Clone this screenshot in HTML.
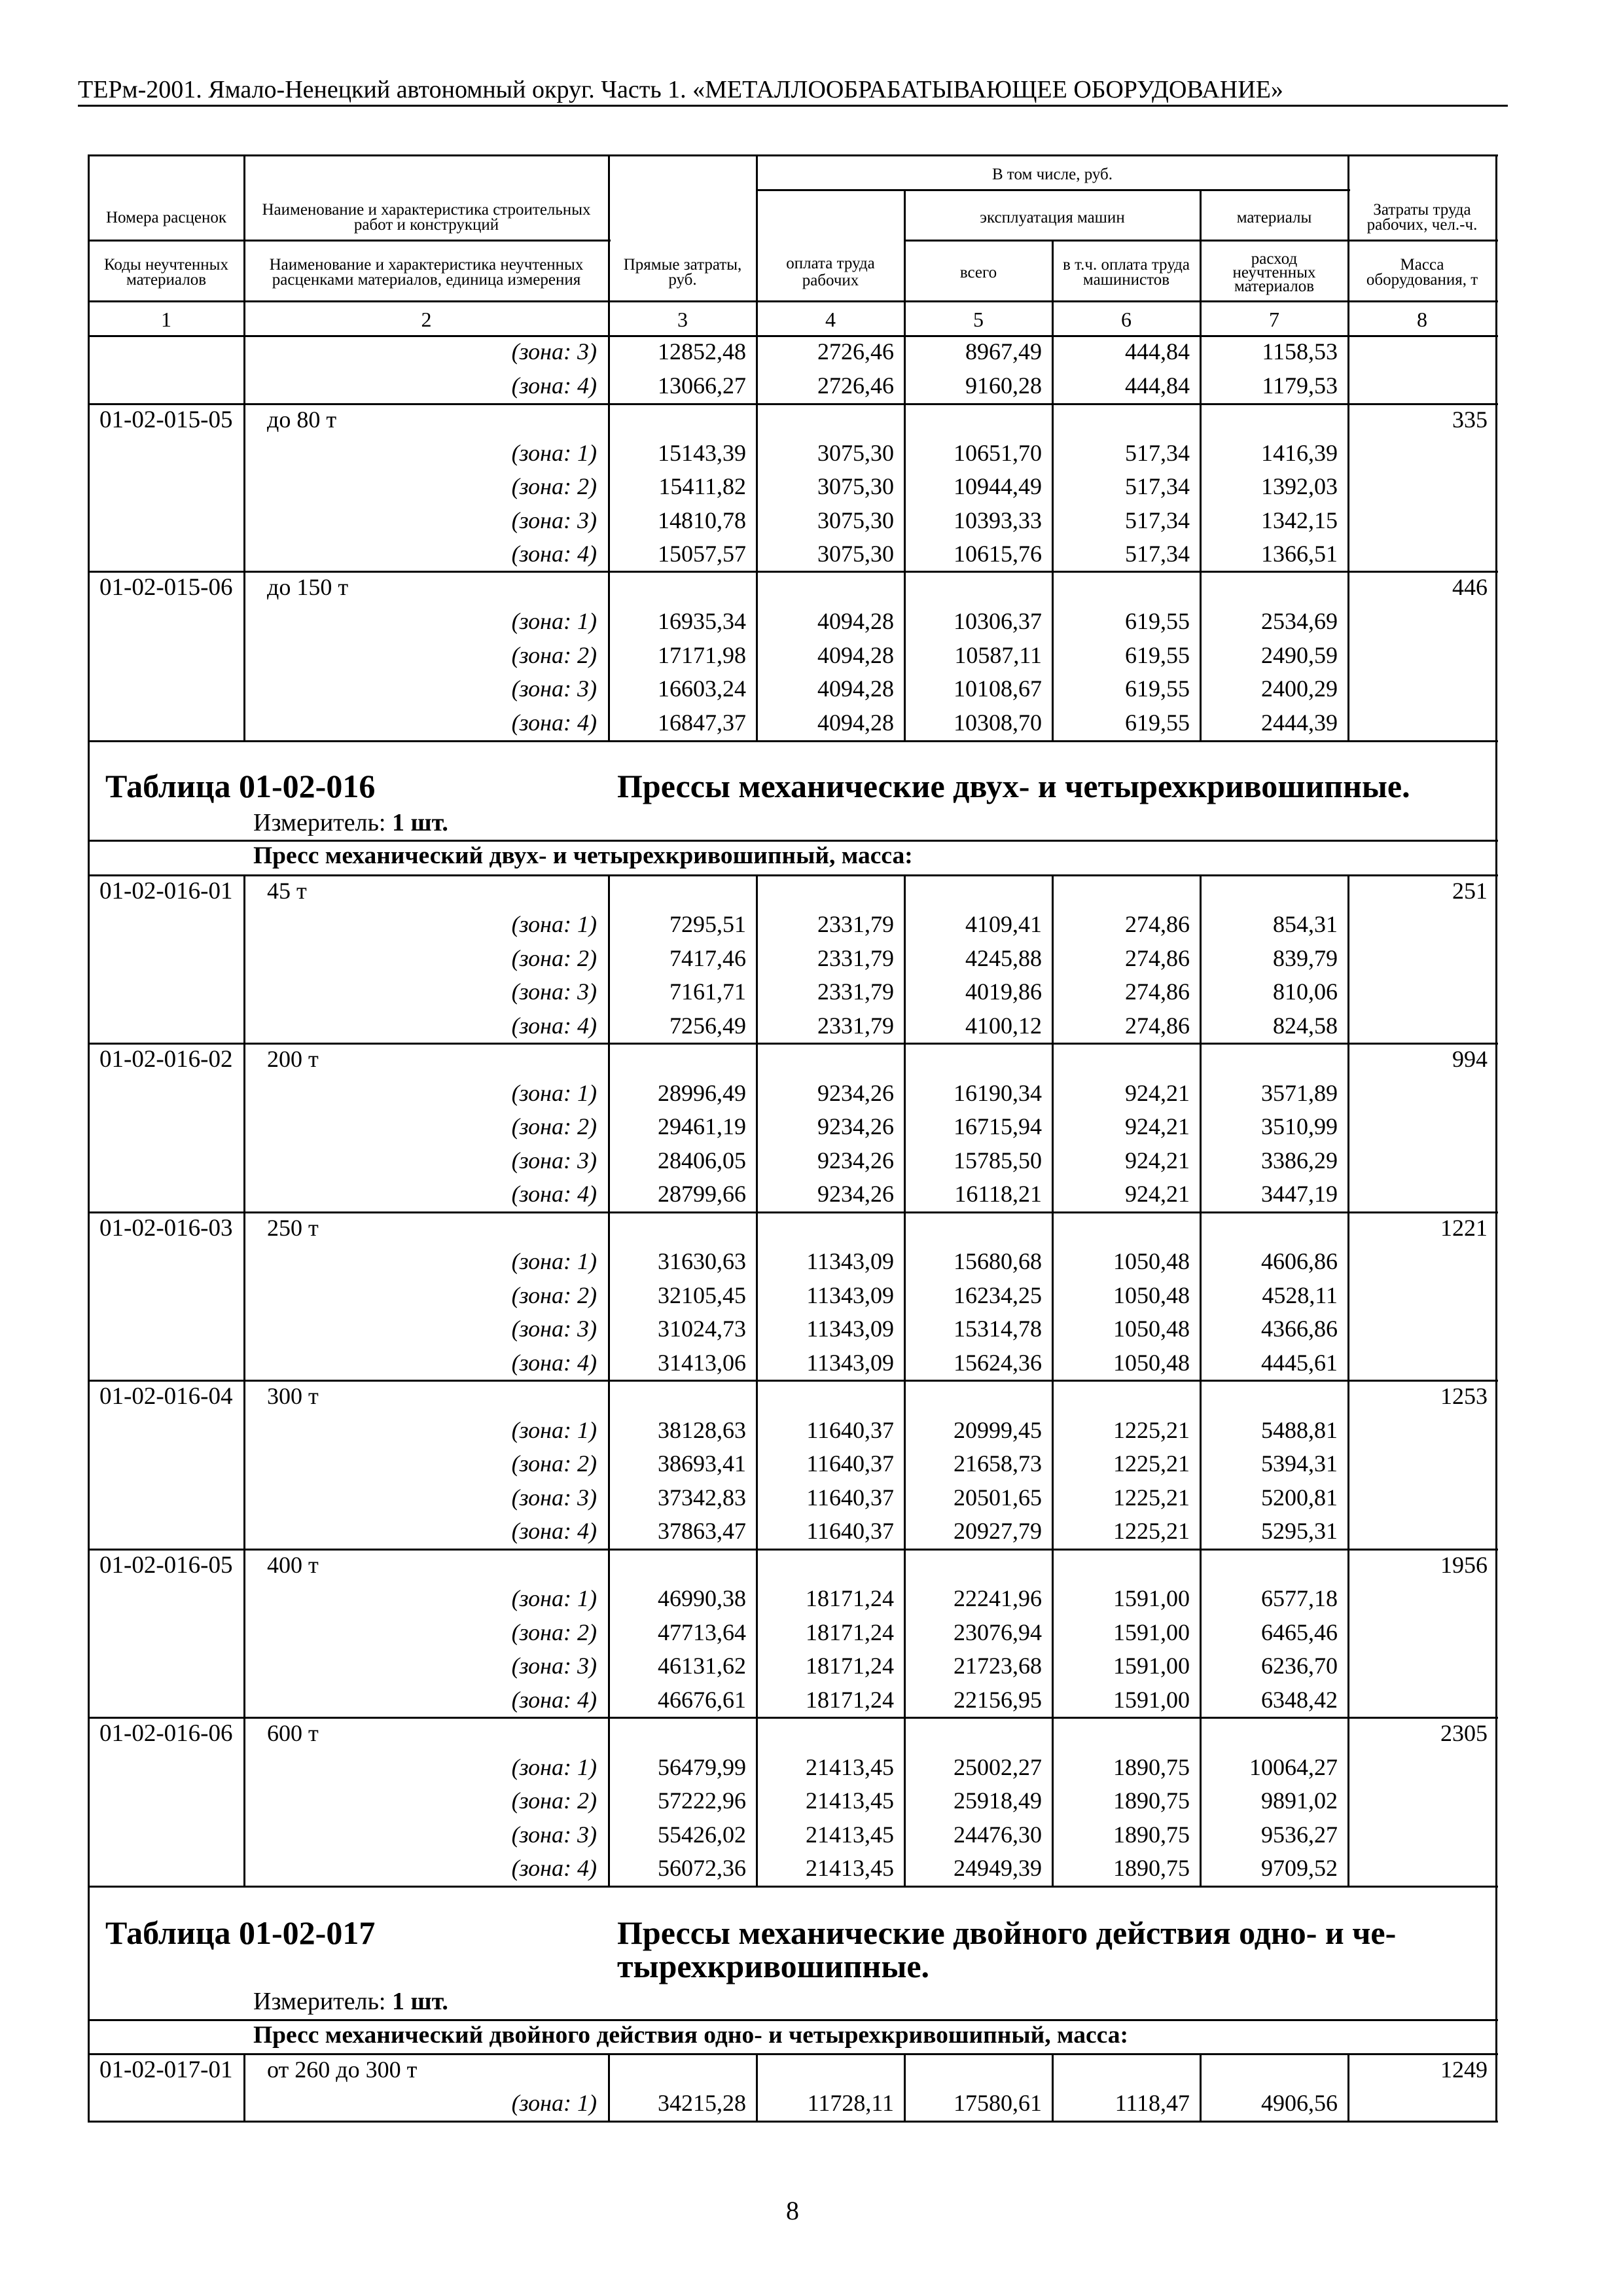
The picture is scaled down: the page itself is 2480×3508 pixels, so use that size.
<!DOCTYPE html>
<html><head><meta charset="utf-8">
<style>
html,body{margin:0;padding:0;background:#fff;}
body{width:2480px;height:3508px;position:relative;overflow:hidden;font-family:"Liberation Serif","DejaVu Serif",serif;color:#000;}
.hl{position:absolute;height:3px;background:#000;}
.vl{position:absolute;width:3px;background:#000;}
.t{position:absolute;white-space:nowrap;}
.h{position:absolute;display:flex;align-items:center;justify-content:center;text-align:center;font-size:25px;line-height:23px;}
.row{position:absolute;left:135px;width:2151px;height:51px;line-height:51px;display:grid;grid-template-columns:238px 557px 226px 226px 226px 226px 226px 226px;font-size:36px;}
.row span{text-align:right;padding-right:16px;white-space:nowrap;}
.row .c{text-align:left;padding-left:17px;padding-right:0;font-size:37px;}
.row .n{text-align:left;padding-left:35px;padding-right:0;}
.row .z{font-style:italic;padding-right:18px;}
.row .m{padding-right:13px;}
</style></head><body>

<div class="t" style="left:119px;top:118px;font-size:38px;line-height:38px;">ТЕРм-2001. Ямало-Ненецкий автономный округ. Часть 1. «МЕТАЛЛООБРАБАТЫВАЮЩЕЕ ОБОРУДОВАНИЕ»</div>
<div class="hl" style="left:119px;top:160px;width:2185px;"></div>

<!-- horizontal lines -->
<div class="hl" style="left:135px;top:236px;width:2154px;"></div>
<div class="hl" style="left:1156px;top:289px;width:907px;"></div>
<div class="hl" style="left:135px;top:366px;width:798px;"></div>
<div class="hl" style="left:1382px;top:366px;width:907px;"></div>
<div class="hl" style="left:135px;top:459px;width:2154px;"></div>
<div class="hl" style="left:135px;top:512px;width:2154px;"></div>
<div class="hl" style="left:135px;top:616px;width:2154px;"></div>
<div class="hl" style="left:135px;top:872px;width:2154px;"></div>
<div class="hl" style="left:135px;top:1131px;width:2154px;"></div>
<div class="hl" style="left:135px;top:1283px;width:2154px;"></div>
<div class="hl" style="left:135px;top:1336px;width:2154px;"></div>
<div class="hl" style="left:135px;top:1593px;width:2154px;"></div>
<div class="hl" style="left:135px;top:1851px;width:2154px;"></div>
<div class="hl" style="left:135px;top:2108px;width:2154px;"></div>
<div class="hl" style="left:135px;top:2366px;width:2154px;"></div>
<div class="hl" style="left:135px;top:2623px;width:2154px;"></div>
<div class="hl" style="left:135px;top:2881px;width:2154px;"></div>
<div class="hl" style="left:135px;top:3085px;width:2154px;"></div>
<div class="hl" style="left:135px;top:3137px;width:2154px;"></div>
<div class="hl" style="left:135px;top:3240px;width:2154px;"></div>

<!-- vertical lines -->
<div class="vl" style="left:134px;top:236px;height:3007px;"></div>
<div class="vl" style="left:2285px;top:236px;height:3007px;"></div>

<div class="vl" style="left:372px;top:236px;height:897px;"></div>
<div class="vl" style="left:929px;top:236px;height:897px;"></div>
<div class="vl" style="left:1155px;top:236px;height:897px;"></div>
<div class="vl" style="left:2059px;top:236px;height:897px;"></div>
<div class="vl" style="left:1381px;top:289px;height:844px;"></div>
<div class="vl" style="left:1833px;top:289px;height:844px;"></div>
<div class="vl" style="left:1607px;top:366px;height:767px;"></div>

<div class="vl" style="left:372px;top:1336px;height:1547px;"></div>
<div class="vl" style="left:929px;top:1336px;height:1547px;"></div>
<div class="vl" style="left:1155px;top:1336px;height:1547px;"></div>
<div class="vl" style="left:1381px;top:1336px;height:1547px;"></div>
<div class="vl" style="left:1607px;top:1336px;height:1547px;"></div>
<div class="vl" style="left:1833px;top:1336px;height:1547px;"></div>
<div class="vl" style="left:2059px;top:1336px;height:1547px;"></div>

<div class="vl" style="left:372px;top:3137px;height:105px;"></div>
<div class="vl" style="left:929px;top:3137px;height:105px;"></div>
<div class="vl" style="left:1155px;top:3137px;height:105px;"></div>
<div class="vl" style="left:1381px;top:3137px;height:105px;"></div>
<div class="vl" style="left:1607px;top:3137px;height:105px;"></div>
<div class="vl" style="left:1833px;top:3137px;height:105px;"></div>
<div class="vl" style="left:2059px;top:3137px;height:105px;"></div>

<!-- header cells -->
<div class="h" style="left:1156px;top:239px;width:904px;height:55px;">В том числе, руб.</div>
<div class="h" style="left:135px;top:292px;width:238px;height:80px;">Номера расценок</div>
<div class="h" style="left:373px;top:292px;width:557px;height:80px;">Наименование и характеристика строительных<br>работ и конструкций</div>
<div class="h" style="left:1382px;top:292px;width:452px;height:80px;">эксплуатация машин</div>
<div class="h" style="left:1834px;top:292px;width:226px;height:80px;">материалы</div>
<div class="h" style="left:2060px;top:292px;width:226px;height:80px;">Затраты труда<br>рабочих, чел.-ч.</div>

<div class="h" style="left:135px;top:372px;width:238px;height:88px;">Коды неучтенных<br>материалов</div>
<div class="h" style="left:373px;top:372px;width:557px;height:88px;">Наименование и характеристика неучтенных<br>расценками материалов, единица измерения</div>
<div class="h" style="left:930px;top:372px;width:226px;height:88px;">Прямые затраты,<br>руб.</div>
<div class="h" style="left:1156px;top:372px;width:226px;height:88px;line-height:26px;">оплата труда<br>рабочих</div>
<div class="h" style="left:1382px;top:372px;width:226px;height:88px;">всего</div>
<div class="h" style="left:1608px;top:372px;width:226px;height:88px;">в т.ч. оплата труда<br>машинистов</div>
<div class="h" style="left:1834px;top:372px;width:226px;height:88px;line-height:21px;">расход<br>неучтенных<br>материалов</div>
<div class="h" style="left:2060px;top:372px;width:226px;height:88px;">Масса<br>оборудования, т</div>

<div class="h" style="left:135px;top:462px;width:238px;height:53px;font-size:32px;">1</div>
<div class="h" style="left:373px;top:462px;width:557px;height:53px;font-size:32px;">2</div>
<div class="h" style="left:930px;top:462px;width:226px;height:53px;font-size:32px;">3</div>
<div class="h" style="left:1156px;top:462px;width:226px;height:53px;font-size:32px;">4</div>
<div class="h" style="left:1382px;top:462px;width:226px;height:53px;font-size:32px;">5</div>
<div class="h" style="left:1608px;top:462px;width:226px;height:53px;font-size:32px;">6</div>
<div class="h" style="left:1834px;top:462px;width:226px;height:53px;font-size:32px;">7</div>
<div class="h" style="left:2060px;top:462px;width:226px;height:53px;font-size:32px;">8</div>

<!-- data -->
<div class="row" style="top:512px"><span></span><span class="z">(зона: 3)</span><span>12852,48</span><span>2726,46</span><span>8967,49</span><span>444,84</span><span>1158,53</span><span></span></div>
<div class="row" style="top:564px"><span></span><span class="z">(зона: 4)</span><span>13066,27</span><span>2726,46</span><span>9160,28</span><span>444,84</span><span>1179,53</span><span></span></div>

<div class="row" style="top:616px"><span class="c">01-02-015-05</span><span class="n">до 80 т</span><span></span><span></span><span></span><span></span><span></span><span class="m">335</span></div>
<div class="row" style="top:667px"><span></span><span class="z">(зона: 1)</span><span>15143,39</span><span>3075,30</span><span>10651,70</span><span>517,34</span><span>1416,39</span><span></span></div>
<div class="row" style="top:718px"><span></span><span class="z">(зона: 2)</span><span>15411,82</span><span>3075,30</span><span>10944,49</span><span>517,34</span><span>1392,03</span><span></span></div>
<div class="row" style="top:770px"><span></span><span class="z">(зона: 3)</span><span>14810,78</span><span>3075,30</span><span>10393,33</span><span>517,34</span><span>1342,15</span><span></span></div>
<div class="row" style="top:821px"><span></span><span class="z">(зона: 4)</span><span>15057,57</span><span>3075,30</span><span>10615,76</span><span>517,34</span><span>1366,51</span><span></span></div>

<div class="row" style="top:872px"><span class="c">01-02-015-06</span><span class="n">до 150 т</span><span></span><span></span><span></span><span></span><span></span><span class="m">446</span></div>
<div class="row" style="top:924px"><span></span><span class="z">(зона: 1)</span><span>16935,34</span><span>4094,28</span><span>10306,37</span><span>619,55</span><span>2534,69</span><span></span></div>
<div class="row" style="top:976px"><span></span><span class="z">(зона: 2)</span><span>17171,98</span><span>4094,28</span><span>10587,11</span><span>619,55</span><span>2490,59</span><span></span></div>
<div class="row" style="top:1027px"><span></span><span class="z">(зона: 3)</span><span>16603,24</span><span>4094,28</span><span>10108,67</span><span>619,55</span><span>2400,29</span><span></span></div>
<div class="row" style="top:1079px"><span></span><span class="z">(зона: 4)</span><span>16847,37</span><span>4094,28</span><span>10308,70</span><span>619,55</span><span>2444,39</span><span></span></div>

<!-- Table 016 title -->
<div class="t" style="left:161px;top:1176px;font-size:50px;line-height:50px;font-weight:bold;">Таблица 01-02-016</div>
<div class="t" style="left:943px;top:1176px;font-size:50px;line-height:50px;font-weight:bold;">Прессы механические двух- и четырехкривошипные.</div>
<div class="t" style="left:387px;top:1238px;font-size:38px;line-height:38px;">Измеритель: <b>1 шт.</b></div>
<div class="t" style="left:387px;top:1289px;font-size:37.5px;line-height:38px;font-weight:bold;">Пресс механический двух- и четырехкривошипный, масса:</div>

<div class="row" style="top:1336px"><span class="c">01-02-016-01</span><span class="n">45 т</span><span></span><span></span><span></span><span></span><span></span><span class="m">251</span></div>
<div class="row" style="top:1387px"><span></span><span class="z">(зона: 1)</span><span>7295,51</span><span>2331,79</span><span>4109,41</span><span>274,86</span><span>854,31</span><span></span></div>
<div class="row" style="top:1439px"><span></span><span class="z">(зона: 2)</span><span>7417,46</span><span>2331,79</span><span>4245,88</span><span>274,86</span><span>839,79</span><span></span></div>
<div class="row" style="top:1490px"><span></span><span class="z">(зона: 3)</span><span>7161,71</span><span>2331,79</span><span>4019,86</span><span>274,86</span><span>810,06</span><span></span></div>
<div class="row" style="top:1542px"><span></span><span class="z">(зона: 4)</span><span>7256,49</span><span>2331,79</span><span>4100,12</span><span>274,86</span><span>824,58</span><span></span></div>

<div class="row" style="top:1593px"><span class="c">01-02-016-02</span><span class="n">200 т</span><span></span><span></span><span></span><span></span><span></span><span class="m">994</span></div>
<div class="row" style="top:1645px"><span></span><span class="z">(зона: 1)</span><span>28996,49</span><span>9234,26</span><span>16190,34</span><span>924,21</span><span>3571,89</span><span></span></div>
<div class="row" style="top:1696px"><span></span><span class="z">(зона: 2)</span><span>29461,19</span><span>9234,26</span><span>16715,94</span><span>924,21</span><span>3510,99</span><span></span></div>
<div class="row" style="top:1748px"><span></span><span class="z">(зона: 3)</span><span>28406,05</span><span>9234,26</span><span>15785,50</span><span>924,21</span><span>3386,29</span><span></span></div>
<div class="row" style="top:1799px"><span></span><span class="z">(зона: 4)</span><span>28799,66</span><span>9234,26</span><span>16118,21</span><span>924,21</span><span>3447,19</span><span></span></div>

<div class="row" style="top:1851px"><span class="c">01-02-016-03</span><span class="n">250 т</span><span></span><span></span><span></span><span></span><span></span><span class="m">1221</span></div>
<div class="row" style="top:1902px"><span></span><span class="z">(зона: 1)</span><span>31630,63</span><span>11343,09</span><span>15680,68</span><span>1050,48</span><span>4606,86</span><span></span></div>
<div class="row" style="top:1954px"><span></span><span class="z">(зона: 2)</span><span>32105,45</span><span>11343,09</span><span>16234,25</span><span>1050,48</span><span>4528,11</span><span></span></div>
<div class="row" style="top:2005px"><span></span><span class="z">(зона: 3)</span><span>31024,73</span><span>11343,09</span><span>15314,78</span><span>1050,48</span><span>4366,86</span><span></span></div>
<div class="row" style="top:2057px"><span></span><span class="z">(зона: 4)</span><span>31413,06</span><span>11343,09</span><span>15624,36</span><span>1050,48</span><span>4445,61</span><span></span></div>

<div class="row" style="top:2108px"><span class="c">01-02-016-04</span><span class="n">300 т</span><span></span><span></span><span></span><span></span><span></span><span class="m">1253</span></div>
<div class="row" style="top:2160px"><span></span><span class="z">(зона: 1)</span><span>38128,63</span><span>11640,37</span><span>20999,45</span><span>1225,21</span><span>5488,81</span><span></span></div>
<div class="row" style="top:2211px"><span></span><span class="z">(зона: 2)</span><span>38693,41</span><span>11640,37</span><span>21658,73</span><span>1225,21</span><span>5394,31</span><span></span></div>
<div class="row" style="top:2263px"><span></span><span class="z">(зона: 3)</span><span>37342,83</span><span>11640,37</span><span>20501,65</span><span>1225,21</span><span>5200,81</span><span></span></div>
<div class="row" style="top:2314px"><span></span><span class="z">(зона: 4)</span><span>37863,47</span><span>11640,37</span><span>20927,79</span><span>1225,21</span><span>5295,31</span><span></span></div>

<div class="row" style="top:2366px"><span class="c">01-02-016-05</span><span class="n">400 т</span><span></span><span></span><span></span><span></span><span></span><span class="m">1956</span></div>
<div class="row" style="top:2417px"><span></span><span class="z">(зона: 1)</span><span>46990,38</span><span>18171,24</span><span>22241,96</span><span>1591,00</span><span>6577,18</span><span></span></div>
<div class="row" style="top:2469px"><span></span><span class="z">(зона: 2)</span><span>47713,64</span><span>18171,24</span><span>23076,94</span><span>1591,00</span><span>6465,46</span><span></span></div>
<div class="row" style="top:2520px"><span></span><span class="z">(зона: 3)</span><span>46131,62</span><span>18171,24</span><span>21723,68</span><span>1591,00</span><span>6236,70</span><span></span></div>
<div class="row" style="top:2572px"><span></span><span class="z">(зона: 4)</span><span>46676,61</span><span>18171,24</span><span>22156,95</span><span>1591,00</span><span>6348,42</span><span></span></div>

<div class="row" style="top:2623px"><span class="c">01-02-016-06</span><span class="n">600 т</span><span></span><span></span><span></span><span></span><span></span><span class="m">2305</span></div>
<div class="row" style="top:2675px"><span></span><span class="z">(зона: 1)</span><span>56479,99</span><span>21413,45</span><span>25002,27</span><span>1890,75</span><span>10064,27</span><span></span></div>
<div class="row" style="top:2726px"><span></span><span class="z">(зона: 2)</span><span>57222,96</span><span>21413,45</span><span>25918,49</span><span>1890,75</span><span>9891,02</span><span></span></div>
<div class="row" style="top:2778px"><span></span><span class="z">(зона: 3)</span><span>55426,02</span><span>21413,45</span><span>24476,30</span><span>1890,75</span><span>9536,27</span><span></span></div>
<div class="row" style="top:2829px"><span></span><span class="z">(зона: 4)</span><span>56072,36</span><span>21413,45</span><span>24949,39</span><span>1890,75</span><span>9709,52</span><span></span></div>

<!-- Table 017 title -->
<div class="t" style="left:161px;top:2928px;font-size:50px;line-height:50px;font-weight:bold;">Таблица 01-02-017</div>
<div class="t" style="left:943px;top:2928px;font-size:50px;line-height:51px;font-weight:bold;">Прессы механические двойного действия одно- и че-<br>тырехкривошипные.</div>
<div class="t" style="left:387px;top:3039px;font-size:38px;line-height:38px;">Измеритель: <b>1 шт.</b></div>
<div class="t" style="left:387px;top:3091px;font-size:37.5px;line-height:38px;font-weight:bold;">Пресс механический двойного действия одно- и четырехкривошипный, масса:</div>

<div class="row" style="top:3137px"><span class="c">01-02-017-01</span><span class="n">от 260 до 300 т</span><span></span><span></span><span></span><span></span><span></span><span class="m">1249</span></div>
<div class="row" style="top:3188px"><span></span><span class="z">(зона: 1)</span><span>34215,28</span><span>11728,11</span><span>17580,61</span><span>1118,47</span><span>4906,56</span><span></span></div>

<div class="t" style="left:1111px;top:3358px;width:200px;text-align:center;font-size:40px;line-height:40px;">8</div>

</body></html>
